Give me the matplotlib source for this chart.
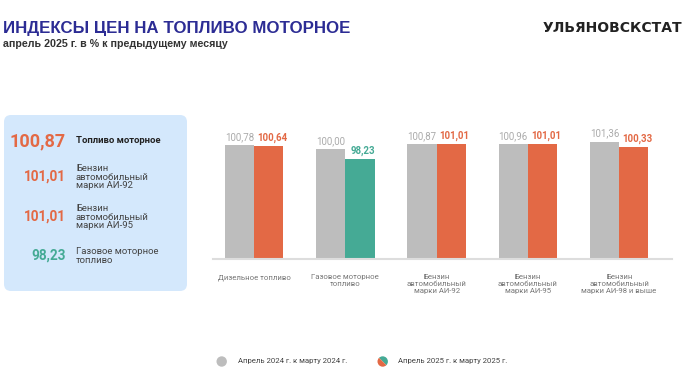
import matplotlib
matplotlib.use("Agg")
import matplotlib.pyplot as plt
from matplotlib.patches import Wedge, Circle, FancyBboxPatch
from matplotlib.transforms import offset_copy
import numpy as np

# ---- data ----
categories = ["Дизельное топливо", "Газовое моторное\nтопливо",
              "Бензин\nавтомобильный\nмарки АИ-92",
              "Бензин\nавтомобильный\nмарки АИ-95",
              "Бензин\nавтомобильный\nмарки АИ-98 и выше"]
prev_values = [100.78, 100.00, 100.87, 100.96, 101.36]
curr_values = [100.64, 98.23, 101.01, 101.01, 100.33]

panel_values = [100.87, 101.01, 101.01, 98.23]
panel_labels = ["Топливо моторное", "Бензин\nавтомобильный\nмарки АИ-92",
                "Бензин\nавтомобильный\nмарки АИ-95", "Газовое моторное\nтопливо"]

legend_labels = ["Апрель 2024 г. к марту 2024 г.", "Апрель 2025 г. к марту 2025 г."]

title = "ИНДЕКСЫ ЦЕН НА ТОПЛИВО МОТОРНОЕ"
subtitle = "апрель 2025 г. в % к предыдущему месяцу"
brand = "УЛЬЯНОВСКСТАТ"

GRAY = "#BDBDBD"
ORANGE = "#E36945"
GREEN = "#45AA95"
BLUE_T = "#2C2C94"

def fmt(v):
    return f"{v:.2f}".replace(".", ",")

def col(v):
    return GREEN if v < 100 else ORANGE

W, H = 700, 383
fig = plt.figure(figsize=(W / 100, H / 100), dpi=100)
fig.patch.set_facecolor("white")

def px(x, y):
    return x / W, 1 - y / H

# titles
fig.text(*px(3, 28), title, fontsize=12.2, fontweight="bold", color=BLUE_T,
         family="Liberation Sans", va="center", ha="left")
fig.text(*px(3, 44), subtitle, fontsize=7.7, fontweight="bold", color="#333333",
         family="Liberation Sans", va="center", ha="left")
fig.text(*px(682, 27.5), brand, fontsize=10, fontweight="bold", color="#222222",
         family="DejaVu Sans", va="center", ha="right")

# left panel
box = FancyBboxPatch((0.04, (H - 291) / 100), 1.83, 1.76,
                     boxstyle="round,pad=0,rounding_size=0.07",
                     transform=fig.dpi_scale_trans, facecolor="#D4E8FC",
                     edgecolor="none", zorder=0)
fig.add_artist(box)
panel_y = [141, 177, 217, 256]
panel_sizes = [13, 9.8, 9.8, 9.8]
for v, lab, y, s in zip(panel_values, panel_labels, panel_y, panel_sizes):
    fig.text(*px(66, y), fmt(v), fontsize=s, fontweight="bold", color=col(v),
             family="Roboto", ha="right", va="center")
    if lab == panel_labels[0]:
        fig.text(*px(76, y), lab, fontsize=6.8, fontweight="bold", color="#222222",
                 family="Roboto", ha="left", va="center")
    else:
        fig.text(*px(76, y), lab, fontsize=6.8, color="#444444",
                 family="Roboto", ha="left", va="center", linespacing=0.98)

# chart
ax = fig.add_axes([213 / W, 1 - 259 / H, (672 - 213) / W, (259 - 130) / H])
x = np.arange(len(categories))
bw = 0.32
ymin = 80.4
ax.bar(x - bw / 2, np.array(prev_values) - ymin, bw, bottom=ymin, color=GRAY, zorder=2)
ax.bar(x + bw / 2, np.array(curr_values) - ymin, bw, bottom=ymin,
       color=[col(v) for v in curr_values], zorder=2)
tr_r = offset_copy(ax.transData, fig=fig, x=3.5, y=0, units="dots")
for xi, v in zip(x, prev_values):
    ax.text(xi - bw / 2, v + 0.55, fmt(v), ha="center", va="bottom", fontsize=7,
            color="#ABABAB", family="Roboto")
for xi, v in zip(x, curr_values):
    ax.text(xi + bw / 2, v + 0.55, fmt(v), ha="center", va="bottom", fontsize=7,
            color=col(v), fontweight="bold", family="Roboto", transform=tr_r)
ax.set_xlim(-0.45, 4.58)
ax.set_ylim(ymin, ymin + (259 - 130) / 5.6)
ax.set_yticks([])
ax.set_xticks(x)
ax.set_xticklabels(categories, fontsize=5.6, color="#777777", family="Roboto",
                   linespacing=1.15, va="top")
ax.tick_params(axis="x", length=0, pad=11)
for s in ["top", "right", "left"]:
    ax.spines[s].set_visible(False)
ax.spines["bottom"].set_color("#DDDDDD")
ax.spines["bottom"].set_linewidth(1.5)
ax.set_facecolor("none")

# legend
cy = (H - 361.5) / 100
fig.add_artist(Circle((221.7 / 100, cy), 0.052, transform=fig.dpi_scale_trans,
                      facecolor=GRAY, edgecolor="none"))
fig.text(*px(238, 361.5), legend_labels[0], fontsize=5.6, color="#444444",
         family="Roboto", ha="left", va="center")
cx2 = 382.7 / 100
fig.add_artist(Wedge((cx2, cy), 0.052, -45, 135, transform=fig.dpi_scale_trans,
                     facecolor=GREEN, edgecolor="none"))
fig.add_artist(Wedge((cx2, cy), 0.052, 135, 315, transform=fig.dpi_scale_trans,
                     facecolor=ORANGE, edgecolor="none"))
fig.text(*px(398, 361.5), legend_labels[1], fontsize=5.6, color="#444444",
         family="Roboto", ha="left", va="center")

fig.savefig("out.png", dpi=100)
